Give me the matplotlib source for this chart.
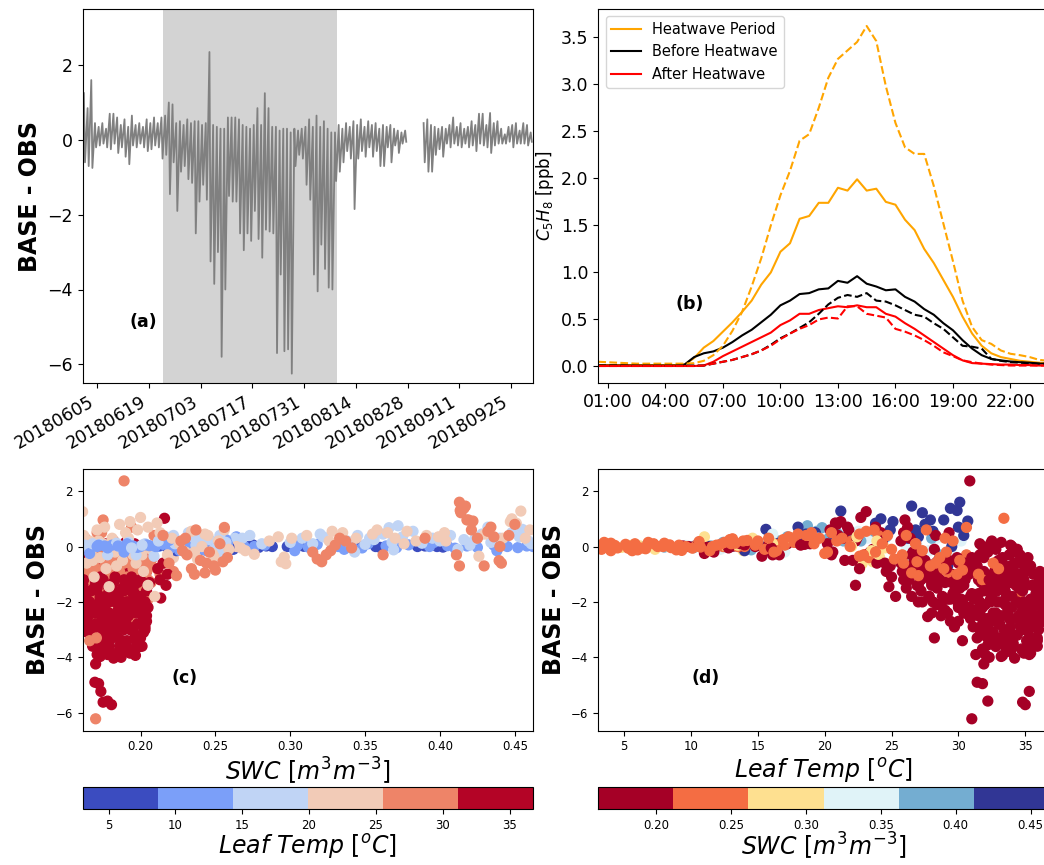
import numpy as np
import matplotlib
matplotlib.use("Agg")
import matplotlib.pyplot as plt
import matplotlib.dates as mdates
from datetime import datetime

# ---------------- panel (a): daily extremes of BASE - OBS ----------------
series_start = "2018-06-01"
series_end = "2018-10-01"
nan = float("nan")
day_max = [1.25, 0.85, 1.60, 0.45, 0.35, 0.45, 0.30, 0.70, 0.70, 0.60,
           0.40, 0.55, 0.35, 0.65, 0.40, 0.45, 0.35, 0.55, 0.45, 0.60,
           0.45, 0.60, 0.65, 1.00, 0.95, 0.45, 0.50, 0.40, 0.55, 0.45,
           0.50, 0.50, 0.40, 0.45, 2.35, 0.40, 0.35, 0.30, 0.30, 0.60,
           0.60, 0.60, 0.55, 0.40, 0.35, 0.30, 0.40, 0.85, 0.40, 1.25,
           0.85, 0.35, 0.35, 0.25, 0.30, 0.30, 0.20, 0.30, 0.25, 0.30,
           0.35, 0.55, 0.35, 0.65, 0.35, 0.50, 0.30, 0.20, 0.20, 0.40,
           0.30, 0.45, 0.35, 0.50, 0.40, 0.55, 0.35, 0.50, 0.40, 0.45,
           0.30, 0.40, 0.35, 0.40, 0.30, 0.25, 0.20, 0.25, nan, nan,
           nan, nan, 0.45, 0.55, 0.40, 0.35, 0.30, 0.35, 0.30, 0.40,
           0.60, 0.35, 0.45, 0.30, 0.35, 0.50, 0.40, 0.70, 0.70, 0.40,
           0.72, 0.45, 0.50, 0.30, 0.15, 0.35, 0.40, 0.45, 0.25, 0.45,
           0.40, 0.20]
day_min = [-0.60, -0.70, -0.75, -0.20, -0.15, -0.10, -0.20, -0.25, -0.10, -0.35,
           -0.20, -0.45, -0.65, -0.15, -0.20, -0.10, -0.20, -0.30, -0.25, -0.15,
           -0.20, -0.50, -0.40, -1.45, -0.60, -1.90, -0.85, -0.70, -1.05, -1.15,
           -2.50, -1.65, -1.20, -1.60, -3.25, -3.85, -3.00, -5.80, -4.00, -1.50,
           -1.65, -1.65, -2.50, -2.95, -2.50, -2.70, -1.90, -2.65, -3.15, -2.40,
           -2.45, -2.50, -5.70, -3.60, -5.65, -5.60, -6.25, -0.70, -0.40, -0.50,
           -1.20, -1.60, -3.60, -4.05, -2.80, -3.45, -3.95, -4.00, -1.10, -0.85,
           -0.60, -0.30, -0.50, -1.85, -0.50, -0.30, -0.45, -0.20, -0.45, -0.30,
           -0.70, -0.70, -0.20, -0.60, -0.15, -0.35, -0.10, -0.05, nan, nan,
           nan, nan, -0.60, -0.85, -0.85, -0.40, -0.25, -0.45, -0.10, -0.20,
           -0.10, -0.15, -0.20, -0.10, -0.20, -0.15, -0.30, -0.10, -0.15, -0.20,
           -0.35, -0.15, -0.10, -0.10, -0.10, -0.05, -0.20, -0.10, -0.10, -0.10,
           -0.15, -0.05]
heatwave_start = "2018-06-22 17:00"
heatwave_end = "2018-08-08 22:00"
date_ticks = ["20180605", "20180619", "20180703", "20180717", "20180731",
              "20180814", "20180828", "20180911", "20180925"]

# ---------------- panel (b): mean diurnal isoprene ----------------
hours = [0.5 + 0.5 * i for i in range(48)]
hw_solid = [0.015, 0.015, 0.015, 0.015, 0.015, 0.015, 0.015, 0.015, 0.015, 0.02,
            0.09, 0.20, 0.27, 0.37, 0.47, 0.58, 0.70, 0.87, 1.00, 1.22,
            1.31, 1.57, 1.60, 1.74, 1.74, 1.90, 1.87, 1.99, 1.87, 1.89,
            1.75, 1.72, 1.56, 1.45, 1.25, 1.10, 0.92, 0.74, 0.53, 0.35,
            0.22, 0.14, 0.10, 0.08, 0.06, 0.05, 0.04, 0.035]
hw_dashed = [0.05, 0.045, 0.04, 0.035, 0.03, 0.03, 0.03, 0.03, 0.03, 0.03,
             0.035, 0.06, 0.12, 0.22, 0.38, 0.58, 0.85, 1.15, 1.50, 1.82,
             2.08, 2.40, 2.47, 2.75, 3.07, 3.27, 3.36, 3.45, 3.62, 3.46,
             2.98, 2.59, 2.33, 2.26, 2.26, 1.92, 1.52, 1.12, 0.70, 0.42,
             0.28, 0.24, 0.17, 0.135, 0.12, 0.10, 0.07, 0.06]
before_solid = [0.01, 0.01, 0.01, 0.01, 0.01, 0.01, 0.01, 0.01, 0.01, 0.02,
                0.10, 0.14, 0.16, 0.20, 0.26, 0.33, 0.39, 0.47, 0.55, 0.65,
                0.70, 0.77, 0.78, 0.82, 0.83, 0.91, 0.89, 0.96, 0.88, 0.85,
                0.81, 0.82, 0.74, 0.69, 0.61, 0.55, 0.46, 0.385, 0.28, 0.19,
                0.12, 0.08, 0.065, 0.053, 0.045, 0.04, 0.03, 0.03]
before_dashed = [0.01, 0.01, 0.01, 0.01, 0.01, 0.01, 0.01, 0.01, 0.01, 0.01,
                 0.01, 0.01, 0.03, 0.05, 0.07, 0.10, 0.13, 0.17, 0.23, 0.30,
                 0.35, 0.41, 0.47, 0.56, 0.66, 0.73, 0.76, 0.74, 0.78, 0.70,
                 0.69, 0.65, 0.60, 0.55, 0.53, 0.46, 0.40, 0.31, 0.22, 0.21,
                 0.19, 0.08, 0.06, 0.046, 0.04, 0.035, 0.03, 0.025]
after_solid = [0.005, 0.005, 0.005, 0.005, 0.005, 0.005, 0.005, 0.005, 0.005, 0.005,
               0.005, 0.01, 0.05, 0.11, 0.16, 0.21, 0.26, 0.31, 0.36, 0.44,
               0.49, 0.56, 0.56, 0.60, 0.62, 0.64, 0.63, 0.65, 0.63, 0.63,
               0.56, 0.53, 0.46, 0.40, 0.33, 0.26, 0.19, 0.12, 0.065, 0.036,
               0.03, 0.025, 0.02, 0.02, 0.015, 0.015, 0.01, 0.01]
after_dashed = [0.005, 0.005, 0.005, 0.005, 0.005, 0.005, 0.005, 0.005, 0.005, 0.005,
                0.005, 0.01, 0.03, 0.05, 0.07, 0.10, 0.13, 0.17, 0.22, 0.29,
                0.35, 0.40, 0.44, 0.50, 0.52, 0.51, 0.64, 0.64, 0.56, 0.54,
                0.52, 0.40, 0.37, 0.33, 0.28, 0.22, 0.15, 0.11, 0.065, 0.046,
                0.03, 0.02, 0.015, 0.01, 0.01, 0.01, 0.01, 0.01]
hour_ticks = [1, 4, 7, 10, 13, 16, 19, 22]
hour_labels = ["01:00", "04:00", "07:00", "10:00", "13:00", "16:00", "19:00", "22:00"]

# ---------------- panels (c),(d): (SWC, leaf temp, BASE - OBS) ----------------
june_pts = [
    (0.298, 5.5, 0.00), (0.302, 6.2, 0.02), (0.357, 7.0, 0.00), (0.360, 4.8, -0.03), (0.385, 6.5, 0.00),
    (0.390, 7.8, 0.02), (0.398, 5.2, 0.00), (0.402, 8.0, -0.02), (0.309, 8.3, 0.01), (0.347, 7.6, 0.00),
    (0.305, 11.2, 0.05), (0.312, 12.5, -0.02), (0.318, 10.4, 0.08), (0.332, 13.1, 0.00), (0.341, 9.6, 0.04),
    (0.348, 12.0, -0.05), (0.352, 13.8, 0.10), (0.364, 11.5, 0.02), (0.371, 10.2, -0.04), (0.379, 12.8, 0.06),
    (0.393, 9.9, 0.00), (0.405, 13.4, 0.03), (0.410, 11.9, -0.06), (0.418, 12.7, 0.02), (0.425, 10.8, -0.03),
    (0.436, 13.6, 0.05), (0.445, 11.3, 0.00), (0.452, 12.2, -0.04), (0.458, 10.6, 0.02), (0.4622, 13.0, 0.00),
    (0.303, 13.9, -0.15), (0.336, 12.2, -0.10), (0.369, 14.5, -0.12), (0.396, 12.4, 0.15), (0.438, 14.0, -0.15),
    (0.300, 16.0, 0.15), (0.308, 17.5, 0.30), (0.315, 15.2, 0.10), (0.322, 18.3, 0.35), (0.338, 16.8, 0.20),
    (0.345, 19.1, 0.40), (0.350, 15.5, 0.08), (0.356, 17.9, 0.25), (0.362, 18.8, 0.45), (0.368, 16.4, 0.15),
    (0.372, 18.7, 0.75), (0.366, 19.8, 0.68), (0.375, 17.2, 0.35), (0.382, 19.4, 0.55), (0.388, 15.9, 0.12),
    (0.395, 18.1, 0.30), (0.400, 16.6, 0.20), (0.407, 19.0, 0.40), (0.416, 17.4, 0.25), (0.420, 15.1, 0.05),
    (0.428, 18.6, 0.45), (0.432, 18.0, 0.70), (0.434, 16.2, 0.15), (0.440, 17.7, 0.30), (0.448, 19.3, 0.50),
    (0.455, 15.6, 0.62), (0.459, 16.9, 0.20), (0.320, 16.1, 0.45), (0.353, 19.5, 0.30), (0.412, 16.3, -0.10),
    (0.423, 19.1, 0.25), (0.453, 18.2, 0.35), (0.461, 16.5, 0.10), (0.343, 17.0, -0.20),
    (0.301, 21.5, 0.30), (0.294, 23.6, -0.55), (0.296, 24.1, -0.38), (0.297, 22.8, -0.62), (0.311, 22.0, 0.40),
    (0.326, 24.4, 0.20), (0.335, 20.8, 0.50), (0.344, 23.2, 0.30), (0.355, 21.9, 0.45), (0.358, 24.8, 0.60),
    (0.365, 22.4, 0.50), (0.370, 20.3, 0.30), (0.378, 23.7, 0.55), (0.391, 21.1, 0.40), (0.399, 24.6, 0.35),
    (0.404, 22.7, 0.20), (0.426, 23.3, -0.35), (0.442, 21.6, 0.30), (0.454, 21.2, 1.28), (0.448, 24.2, 1.00),
    (0.447, 25.1, 0.90), (0.451, 23.8, 0.84), (0.430, 20.6, 0.45), (0.384, 21.4, 0.20), (0.328, 22.5, 0.55),
    (0.376, 24.2, 0.10), (0.403, 20.9, 0.50), (0.457, 22.0, 0.30), (0.460, 24.9, 0.60),
    (0.315, 27.4, -0.20), (0.318, 28.9, -0.45), (0.321, 26.3, -0.55), (0.324, 29.6, -0.30), (0.327, 27.8, -0.15),
    (0.330, 26.9, 0.05), (0.333, 28.4, 0.30), (0.337, 30.2, 0.20), (0.341, 26.1, -0.05), (0.362, 27.1, -0.30),
    (0.390, 28.0, 0.30), (0.413, 30.1, 1.60), (0.4135, 29.9, 1.30), (0.414, 27.3, 1.22), (0.416, 29.4, 1.38),
    (0.417, 26.5, 1.46), (0.418, 28.9, 0.96), (0.419, 27.9, 0.96), (0.421, 26.8, 0.60), (0.422, 30.7, 0.92),
    (0.411, 28.6, -0.30), (0.413, 27.6, -0.70), (0.4295, 29.2, -0.70), (0.425, 26.2, 0.30), (0.432, 28.1, 0.55),
    (0.434, 30.0, 0.70), (0.436, 27.0, 0.35), (0.440, 29.5, 0.00), (0.4395, 26.7, -0.51), (0.441, 28.3, -0.60),
    (0.446, 30.4, 0.40), (0.450, 27.5, 0.80),
]
# heatwave, hottest hours with small bias
heat_hot_upper = [
    (0.165, 34.1, -0.80), (0.172, 35.6, -1.00), (0.174, 32.7, -0.90), (0.186, 31.4, -0.70), (0.167, 32.9, -1.00),
    (0.184, 33.0, -0.90), (0.204, 31.9, -0.90), (0.191, 35.2, -0.80), (0.179, 33.3, -0.60), (0.163, 33.7, -0.90),
    (0.171, 34.2, -0.60), (0.180, 31.3, -0.90), (0.199, 33.9, -0.70), (0.168, 34.9, -0.90), (0.202, 34.4, -1.00),
    (0.193, 32.6, -1.00), (0.177, 31.6, 0.10), (0.186, 32.8, -0.10), (0.194, 33.9, 0.05), (0.181, 34.6, -0.30),
    (0.169, 31.9, -0.20), (0.182, 32.5, 0.20), (0.190, 33.2, 0.15), (0.175, 34.4, -0.10), (0.198, 31.8, 0.00),
    (0.185, 35.2, -0.40), (0.163, 31.4, -0.40), (0.167, 32.2, -0.20), (0.171, 33.0, -0.50), (0.174, 33.8, -0.30),
    (0.178, 34.7, -0.60), (0.182, 35.4, -0.70), (0.186, 31.9, -0.40), (0.190, 32.7, -0.60), (0.193, 34.2, -0.20),
    (0.197, 35.0, -0.90), (0.200, 33.3, -0.40), (0.203, 31.6, -0.30), (0.166, 34.9, -0.50), (0.180, 33.1, -0.80),
    (0.188, 34.0, 0.00), (0.196, 32.4, 0.10), (0.172, 35.8, -1.00), (0.184, 36.1, -0.90),
]
# heatwave, warm hours
heat_warm = [
    (0.1613, 27.5, -0.80), (0.162, 29.8, -1.60), (0.163, 26.4, 0.30), (0.165, 28.7, -2.10), (0.166, 30.5, -1.20),
    (0.168, 27.0, -0.40), (0.169, 29.2, -2.40), (0.171, 25.9, 0.50), (0.172, 28.0, -1.30), (0.174, 30.2, -1.90),
    (0.176, 26.7, -0.70), (0.178, 29.5, -1.00), (0.180, 27.7, -2.53), (0.182, 25.7, 0.20), (0.184, 28.4, -1.50),
    (0.185, 30.8, -2.20), (0.187, 26.9, -0.30), (0.189, 29.0, -2.30), (0.191, 27.3, -1.10), (0.193, 30.0, -0.60),
    (0.194, 26.2, 0.70), (0.196, 28.8, -1.80), (0.198, 27.9, -0.90), (0.199, 30.4, -1.40), (0.201, 26.6, -0.20),
    (0.203, 29.6, -1.70), (0.205, 27.2, -1.20), (0.207, 30.9, -0.50), (0.209, 28.3, 0.40), (0.211, 26.0, -0.80),
    (0.213, 29.3, -1.00), (0.216, 27.6, -0.60), (0.219, 30.6, -0.30), (0.222, 28.6, -0.90), (0.224, 26.8, 0.10),
    (0.164, 30.0, -2.70), (0.167, 29.0, -1.90), (0.173, 30.7, -0.90), (0.177, 28.5, -0.50), (0.183, 29.7, -2.90),
    (0.188, 30.1, -1.50), (0.192, 28.1, -2.00), (0.197, 29.9, -1.10), (0.202, 30.6, -2.40), (0.206, 28.9, -0.70),
    (0.171, 27.2, -1.60), (0.179, 26.3, -1.20), (0.186, 31.0, -0.90), (0.195, 27.0, -1.40), (0.174, 29.3, 0.50),
    (0.163, 28.1, -1.10), (0.168, 30.9, -2.60), (0.172, 26.5, -0.30), (0.175, 29.8, -1.50), (0.178, 27.3, -2.00),
    (0.181, 30.5, -0.60), (0.184, 26.6, -1.00), (0.187, 29.4, -1.90), (0.190, 27.5, -0.50), (0.193, 28.7, -2.50),
    (0.196, 30.3, -2.00), (0.199, 26.4, -0.70), (0.202, 28.0, -1.40), (0.205, 29.2, -1.90), (0.208, 27.0, -0.40),
    (0.170, 25.8, -0.90), (0.186, 28.2, -0.10), (0.194, 31.0, -1.70), (0.177, 30.0, -2.20), (0.165, 27.8, -1.80),
    (0.164, 29.5, -1.30), (0.169, 30.7, -0.70), (0.174, 28.9, -2.30), (0.179, 30.9, -1.80), (0.184, 29.9, -0.40),
    (0.189, 28.6, -1.20), (0.194, 29.4, -2.70), (0.199, 30.8, -1.00), (0.204, 28.4, -2.10), (0.181, 27.1, -0.80),
    (0.171, 31.1, -2.90), (0.191, 30.5, -2.40),
    (0.162, 26.9, -1.40), (0.165, 25.7, -0.60), (0.168, 28.4, -0.90), (0.171, 29.6, -1.70), (0.174, 27.6, -1.10),
    (0.177, 26.1, -1.50), (0.180, 29.1, -0.80), (0.183, 27.8, -1.80), (0.186, 30.2, -1.20), (0.189, 26.7, -0.60),
    (0.192, 29.7, -1.60), (0.195, 28.3, -0.80), (0.198, 25.9, -1.20), (0.201, 30.0, -2.10), (0.204, 27.4, -0.90),
    (0.207, 29.0, -1.30), (0.166, 28.9, -0.50), (0.175, 30.4, -2.40), (0.184, 27.0, -2.00), (0.193, 26.5, -1.80),
    (0.202, 29.3, -0.50), (0.187, 28.0, -2.40), (0.178, 25.8, -0.40), (0.196, 31.0, -0.40), (0.169, 26.2, -1.20),
]
# heatwave, hottest hours with large negative bias
heat_hot = [
    (0.1613, 33.0, -2.60), (0.162, 31.5, -1.20), (0.163, 35.2, -3.07), (0.164, 32.4, -1.90), (0.166, 31.8, -2.80),
    (0.167, 36.0, -2.10), (0.168, 33.6, -3.60), (0.169, 32.0, -1.50), (0.170, 34.7, -2.40), (0.171, 31.3, -3.90),
    (0.173, 33.2, -3.97), (0.175, 34.4, -3.20), (0.176, 31.6, -2.20), (0.177, 36.3, -1.80), (0.178, 33.9, -2.90),
    (0.179, 32.2, -3.55), (0.180, 35.0, -1.40), (0.181, 31.9, -2.60), (0.182, 34.2, -4.03), (0.183, 33.4, -1.10),
    (0.184, 35.8, -2.50), (0.185, 32.9, -3.30), (0.187, 34.9, -3.85), (0.188, 33.1, -2.00), (0.189, 36.5, -1.60),
    (0.190, 32.5, -2.70), (0.191, 34.0, -3.40), (0.192, 31.7, -1.30), (0.193, 35.4, -3.85), (0.194, 33.7, -2.30),
    (0.195, 32.1, -3.00), (0.196, 34.6, -1.70), (0.1966, 33.3, -3.93), (0.197, 31.2, -1.90), (0.198, 35.5, -2.80),
    (0.1995, 32.8, -3.61), (0.200, 34.3, -1.20), (0.201, 31.6, -2.40), (0.202, 33.8, -3.10), (0.203, 36.1, -2.00),
    (0.204, 32.3, -1.60), (0.205, 34.8, -2.20), (0.2115, 33.0, -0.80), (0.213, 31.8, -1.20), (0.2135, 34.5, -1.86),
    (0.215, 32.6, -0.60), (0.217, 35.1, -1.40), (0.218, 31.5, -1.00), (0.216, 33.4, 1.02), (0.1625, 34.4, -2.00),
    (0.166, 36.76, -2.00), (0.169, 35.9, -3.30), (0.171, 33.5, -2.10), (0.173, 31.3, -1.80), (0.176, 34.0, -2.60),
    (0.178, 35.3, -3.90), (0.180, 32.6, -3.10), (0.182, 31.5, -1.70), (0.186, 35.7, -2.90), (0.188, 34.5, -1.50),
    (0.190, 31.8, -3.70), (0.192, 33.2, -2.50), (0.194, 36.2, -1.10), (0.196, 32.0, -2.10), (0.198, 34.1, -3.50),
    (0.200, 33.6, -1.80), (0.202, 35.0, -2.60), (0.206, 33.1, -1.30), (0.174, 36.4, -2.30), (0.170, 33.8, -1.30),
    (0.185, 31.2, -2.30), (0.195, 34.9, -1.20), (0.172, 32.2, -2.90), (0.183, 34.7, -3.00), (0.199, 35.6, -3.30),
    (0.187, 32.3, -4.00), (0.1615, 35.0, -1.40), (0.165, 36.5, -2.50), (0.167, 34.8, -1.60), (0.168, 31.9, -3.20),
    (0.170, 36.0, -2.80), (0.173, 35.4, -1.90), (0.174, 31.5, -2.50), (0.176, 33.0, -3.40), (0.177, 35.0, -3.00),
    (0.179, 34.9, -2.00), (0.182, 36.0, -1.30), (0.183, 32.4, -2.00), (0.185, 34.0, -1.80), (0.186, 33.5, -3.60),
    (0.188, 35.9, -3.40), (0.189, 31.6, -3.00), (0.190, 34.8, -2.70), (0.192, 36.6, -2.10), (0.195, 35.8, -1.70),
    (0.196, 31.4, -3.30), (0.198, 33.1, -2.80), (0.201, 35.3, -3.60), (0.203, 32.0, -2.90), (0.204, 34.5, -2.50),
    (0.205, 36.3, -1.40), (0.164, 33.4, -3.00), (0.172, 33.9, -3.70), (0.175, 32.3, -1.20), (0.178, 34.3, -1.40),
    (0.181, 33.6, -3.30), (0.184, 32.0, -3.90), (0.187, 35.5, -2.20), (0.191, 32.9, -2.00), (0.194, 34.7, -3.70),
    (0.197, 35.1, -2.40), (0.200, 32.2, -3.30), (0.189, 33.8, -2.60), (0.176, 35.9, -3.60), (0.170, 32.8, -2.40),
    (0.166, 33.9, -3.10), (0.183, 36.4, -2.70), (0.193, 36.0, -3.00), (0.179, 31.9, -1.60),
    (0.162, 32.9, -1.60), (0.165, 35.5, -2.20), (0.168, 32.6, -2.40), (0.171, 36.0, -1.50), (0.174, 34.6, -2.80),
    (0.177, 32.5, -1.80), (0.180, 33.9, -3.80), (0.183, 35.6, -1.90), (0.186, 32.2, -2.60), (0.189, 34.3, -1.20),
    (0.192, 35.3, -2.90), (0.195, 33.4, -1.50), (0.198, 32.6, -1.30), (0.201, 34.0, -2.20), (0.204, 35.7, -2.70),
    (0.167, 33.2, -3.30), (0.173, 34.1, -1.10), (0.179, 35.2, -2.40), (0.185, 33.0, -2.80), (0.191, 31.6, -2.00),
    (0.197, 33.6, -3.20), (0.203, 34.8, -3.00), (0.176, 31.9, -3.00), (0.188, 32.8, -3.50), (0.194, 35.5, -1.40),
    (0.170, 35.1, -3.40), (0.182, 33.5, -1.60), (0.200, 35.8, -2.00), (0.164, 31.8, -2.20), (0.187, 36.2, -2.40),
    (0.1695, 31.4, -4.90), (0.172, 31.8, -4.95), (0.1735, 35.3, -5.23), (0.175, 34.8, -5.62), (0.1806, 35.0, -5.71),
    (0.178, 32.2, -5.58), (0.170, 31.9, -4.24),
]
heat_outliers = [
    (0.170, 31.0, -6.22), (0.189, 30.85, 2.37), (0.1705, 28.2, -3.30), (0.166, 30.3, -3.40), (0.175, 26.0, 0.96),
]
# heatwave, mild hours
heat_mild = [
    (0.1613, 23.1, 1.26), (0.162, 21.0, 0.40), (0.164, 24.5, -0.60), (0.166, 22.3, 0.20), (0.167, 20.6, -0.20),
    (0.169, 25.0, -1.10), (0.171, 21.8, 0.60), (0.173, 23.9, -0.40), (0.175, 20.2, 0.10), (0.177, 22.6, -0.80),
    (0.179, 24.8, -1.45), (0.181, 21.4, 0.30), (0.183, 23.4, -0.20), (0.186, 20.9, 0.80), (0.188, 22.1, -0.50),
    (0.190, 24.2, 0.50), (0.193, 21.2, 0.90), (0.195, 23.0, -0.30), (0.198, 20.4, 0.60), (0.200, 22.7, 1.05),
    (0.202, 24.6, -0.90), (0.205, 21.7, 0.70), (0.207, 23.6, -0.10), (0.205, 22.3, -1.40), (0.2095, 25.3, -1.80),
    (0.211, 20.8, 0.85), (0.214, 24.0, 0.40), (0.218, 22.0, 0.20), (0.222, 23.3, -0.40),
    (0.168, 21.5, -0.50), (0.176, 23.8, 0.70), (0.184, 24.9, -0.70), (0.192, 22.4, 0.30), (0.201, 20.5, -0.30),
    (0.172, 24.3, 0.20), (0.197, 23.9, -0.60),
]
# heatwave, night hours
heat_night = [
    (0.1613, 12.5, 0.00), (0.163, 15.8, 0.05), (0.166, 11.0, -0.25), (0.168, 17.2, 0.10), (0.171, 13.6, 0.00),
    (0.173, 18.5, 0.08), (0.176, 10.3, 0.02), (0.178, 16.1, -0.30), (0.181, 12.9, 0.05), (0.184, 19.0, 0.12),
    (0.186, 14.8, 0.00), (0.189, 11.7, -0.20), (0.192, 17.8, 0.15), (0.195, 13.2, 0.02), (0.197, 16.6, -0.30),
    (0.200, 10.9, 0.00), (0.203, 18.9, 0.10), (0.206, 12.1, 0.03), (0.209, 15.3, -0.35), (0.212, 14.0, 0.00),
    (0.216, 17.0, 0.05), (0.221, 13.5, 0.00), (0.226, 16.3, 0.08), (0.231, 12.4, 0.00),
]
after_pts = [
    (0.266, 5.5, 0.04), (0.271, 6.2, 0.00), (0.275, 8.1, 0.06), (0.279, 4.8, -0.03), (0.284, 6.9, 0.02),
    (0.288, 5.6, 0.00), (0.262, 7.3, -0.10), (0.264, 11.0, 0.35), (0.269, 12.6, 0.02), (0.276, 10.3, 0.00),
    (0.283, 13.5, 0.05), (0.263, 14.6, 0.30), (0.268, 17.5, 0.30), (0.273, 18.8, 0.40), (0.281, 16.1, 0.10),
    (0.264, 22.0, 0.00), (0.270, 23.5, -0.15), (0.276, 24.0, -0.28), (0.286, 23.9, 0.20), (0.292, 22.4, 0.35),
    (0.267, 24.5, -0.05),
    (0.222, 3.06, 0.00), (0.226, 3.8, 0.05), (0.231, 4.5, -0.05), (0.235, 5.1, 0.08), (0.238, 5.9, 0.02),
    (0.242, 6.6, -0.08), (0.245, 7.2, 0.10), (0.248, 7.9, 0.00), (0.252, 8.5, -0.04), (0.256, 3.5, 0.03),
    (0.259, 4.2, -0.02), (0.229, 8.0, 0.12), (0.240, 3.3, -0.10), (0.250, 4.0, 0.12), (0.236, 6.0, -0.12),
    (0.244, 8.4, 0.06), (0.254, 5.3, -0.06), (0.233, 7.5, 0.00), (0.228, 5.8, 0.10), (0.218, 6.4, -0.05),
    (0.213, 4.3, 0.04), (0.224, 4.0, -0.15), (0.233, 3.5, 0.15), (0.247, 5.6, -0.15), (0.252, 6.8, 0.15),
    (0.172, 10.5, 0.05), (0.178, 12.8, -0.05), (0.185, 9.4, 0.02), (0.191, 13.7, 0.10), (0.198, 11.2, -0.03),
    (0.204, 14.0, 0.06), (0.210, 9.8, 0.00), (0.215, 12.2, 0.08), (0.220, 10.1, -0.06), (0.225, 13.3, 0.12),
    (0.230, 11.6, 0.00), (0.234, 9.1, 0.05), (0.239, 12.5, 0.15), (0.243, 10.7, -0.02), (0.247, 13.9, 0.20),
    (0.251, 11.9, 0.05), (0.255, 9.6, 0.00), (0.258, 13.0, 0.10), (0.239, 8.9, -0.12), (0.229, 10.6, 0.18),
    (0.244, 11.4, -0.15), (0.257, 12.9, 0.25), (0.241, 13.1, 0.28), (0.226, 9.3, -0.14),
    (0.212, 15.0, 0.20), (0.217, 17.3, 0.35), (0.223, 19.2, 0.10), (0.228, 16.4, -0.15), (0.233, 18.0, 0.45),
    (0.237, 14.8, 0.05), (0.241, 19.6, 0.30), (0.246, 16.9, 0.25), (0.249, 15.5, -0.10), (0.253, 18.6, 0.40),
    (0.257, 17.7, 0.15), (0.201, 18.2, 0.05), (0.194, 16.0, -0.05), (0.219, 14.2, 0.22), (0.236, 15.8, 0.30),
    (0.253, 16.2, -0.20), (0.232, 19.0, 0.50), (0.222, 18.9, 0.40),
    (0.213, 20.5, 0.50), (0.218, 22.9, -0.30), (0.221, 21.3, 0.30), (0.226, 24.3, 0.10), (0.230, 20.2, -0.20),
    (0.234, 23.1, 0.55), (0.238, 25.2, -0.45), (0.241, 21.9, 0.00), (0.245, 24.7, 0.40), (0.249, 22.6, -0.35),
    (0.252, 20.9, 0.20), (0.256, 23.7, 0.60), (0.259, 25.0, -0.10), (0.248, 20.0, -0.25), (0.236, 23.8, -0.20),
    (0.243, 22.6, 0.45),
    (0.215, 26.1, 0.40), (0.219, 28.3, -0.60), (0.224, 27.0, -1.05), (0.227, 29.6, 0.20), (0.231, 25.8, -0.30),
    (0.234, 28.9, -0.80), (0.237, 27.6, 0.60), (0.240, 30.1, -0.50), (0.243, 26.5, -0.95), (0.246, 29.1, -0.20),
    (0.249, 27.9, -0.70), (0.253, 26.8, 0.10), (0.256, 30.6, 0.69), (0.258, 28.6, -0.40), (0.236, 29.9, -1.00),
    (0.244, 25.9, -0.60), (0.228, 27.3, -0.15), (0.250, 30.3, -0.85), (0.255, 26.9, -0.55), (0.230, 29.0, 0.30),
]

# ======================================================================
W, H = 1044, 865
fig = plt.figure(figsize=(W / 100, H / 100), dpi=100)

ax_a = fig.add_axes([82.6 / W, (H - 383) / H, 450.5 / W, 374 / H])
ax_b = fig.add_axes([598.3 / W, (H - 383) / H, 450.5 / W, 374 / H])
ax_c = fig.add_axes([82.6 / W, (H - 730.7) / H, 450.5 / W, 261.7 / H])
ax_d = fig.add_axes([598.3 / W, (H - 730.7) / H, 450.5 / W, 261.7 / H])
cax_c = fig.add_axes([82.6 / W, (H - 809.3) / H, 450.5 / W, 22 / H])
cax_d = fig.add_axes([598.3 / W, (H - 809.3) / H, 450.5 / W, 22 / H])

# ---- (a) ----
t0 = mdates.date2num(datetime.strptime(series_start, "%Y-%m-%d"))
t_line, v_line = [], []
for i, (mx, mn) in enumerate(zip(day_max, day_min)):
    t_line += [t0 + i + 0.35, t0 + i + 0.65]
    v_line += [mx, mn]
ax_a.axvspan(mdates.date2num(datetime.strptime(heatwave_start, "%Y-%m-%d %H:%M")),
             mdates.date2num(datetime.strptime(heatwave_end, "%Y-%m-%d %H:%M")),
             color="lightgrey", zorder=0, lw=0)
ax_a.plot(t_line, v_line, color="grey", lw=1.3)
ax_a.set_xlim(t0, mdates.date2num(datetime.strptime(series_end, "%Y-%m-%d")))
ax_a.set_ylim(-6.5, 3.5)
ax_a.set_yticks([-6, -4, -2, 0, 2])
ax_a.set_xticks([mdates.date2num(datetime.strptime(d, "%Y%m%d")) for d in date_ticks])
ax_a.set_xticklabels(date_ticks, rotation=30, ha="right")
ax_a.tick_params(labelsize=12.5)
ax_a.set_ylabel("BASE - OBS", fontsize=17, fontweight="bold")
ax_a.text(0.135, 0.163, "(a)", transform=ax_a.transAxes, fontsize=12.5,
          fontweight="bold", ha="center", va="center")

# ---- (b) ----
ax_b.plot(hours, hw_solid, color="orange", lw=1.5, label="Heatwave Period")
ax_b.plot(hours, before_solid, color="black", lw=1.5, label="Before Heatwave")
ax_b.plot(hours, after_solid, color="red", lw=1.5, label="After Heatwave")
ax_b.plot(hours, hw_dashed, "--", color="orange", lw=1.5)
ax_b.plot(hours, before_dashed, "--", color="black", lw=1.5)
ax_b.plot(hours, after_dashed, "--", color="red", lw=1.5)
ax_b.set_xlim(hours[0], hours[-1])
ax_b.set_xticks(hour_ticks)
ax_b.set_xticklabels(hour_labels)
ax_b.tick_params(labelsize=12.5)
ax_b.set_ylabel(r"$C_5H_8$ [ppb]", fontsize=12)
ax_b.legend(loc="upper left", fontsize=10.5)
ax_b.text(0.2035, 0.211, "(b)", transform=ax_b.transAxes, fontsize=12.5,
          fontweight="bold", ha="center", va="center")

# ---- (c), (d) ----
pts = np.array(june_pts + heat_hot_upper + heat_warm + heat_hot + heat_outliers
               + heat_mild + heat_night + after_pts)
swc, temp, diff = pts[:, 0], pts[:, 1], pts[:, 2]
cmap_t = matplotlib.colormaps["coolwarm"].resampled(6)
cmap_s = matplotlib.colormaps["RdYlBu"].resampled(6)

sc_c = ax_c.scatter(swc, diff, c=temp, cmap=cmap_t, vmin=temp.min(), vmax=temp.max(), s=50)
ax_c.set_xlim(swc.min(), swc.max())
ax_c.set_xlabel(r"$SWC\ [m^3m^{-3}]$", fontsize=17, labelpad=2)
ax_c.set_ylabel("BASE - OBS", fontsize=17, fontweight="bold")
ax_c.tick_params(labelsize=8.5)
ax_c.text(0.2255, 0.2, "(c)", transform=ax_c.transAxes, fontsize=12.5,
          fontweight="bold", ha="center", va="center")
cb_c = fig.colorbar(sc_c, cax=cax_c, orientation="horizontal")
cb_c.set_label(r"$Leaf\ Temp\ [^oC]$", fontsize=17, labelpad=0)
cb_c.ax.tick_params(labelsize=8.5)

sc_d = ax_d.scatter(temp, diff, c=swc, cmap=cmap_s, vmin=swc.min(), vmax=swc.max(), s=50)
ax_d.set_xlim(temp.min(), temp.max())
ax_d.set_xlabel(r"$Leaf\ Temp\ [^oC]$", fontsize=17, labelpad=2)
ax_d.set_ylabel("BASE - OBS", fontsize=17, fontweight="bold")
ax_d.tick_params(labelsize=8.5)
ax_d.text(0.2386, 0.2, "(d)", transform=ax_d.transAxes, fontsize=12.5,
          fontweight="bold", ha="center", va="center")
cb_d = fig.colorbar(sc_d, cax=cax_d, orientation="horizontal")
cb_d.set_label(r"$SWC\ [m^3m^{-3}]$", fontsize=17, labelpad=-1)
cb_d.ax.tick_params(labelsize=8.5)

fig.savefig("out.png", dpi=100)
